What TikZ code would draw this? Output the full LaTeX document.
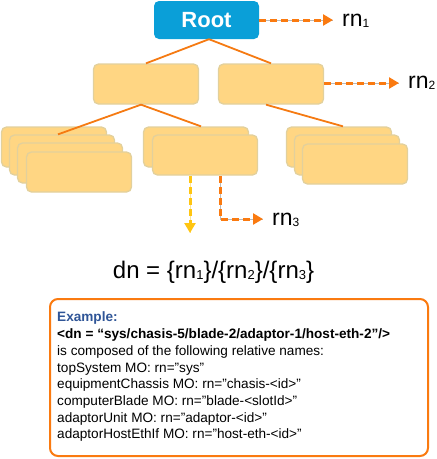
\documentclass[tikz,border=0pt]{standalone}
\usepackage{fontspec}
\setmainfont{Liberation Sans}
\usetikzlibrary{arrows.meta}
\definecolor{boxfill}{HTML}{FFD683}
\definecolor{boxline}{HTML}{E2D09C}
\definecolor{rootblue}{HTML}{0A9FD8}
\definecolor{edgeor}{HTML}{F57A12}
\definecolor{dashor}{HTML}{FA7A10}
\definecolor{dashye}{HTML}{FFC511}
\definecolor{exblue}{HTML}{2F5597}
\newcommand\subdig[2]{\raisebox{-1pt}{\fontsize{#1}{#1}\selectfont #2}}
\begin{document}
\begin{tikzpicture}[x=1pt,y=-1pt,
 lbox/.style={rectangle, rounded corners=5pt, fill=boxfill, draw=boxline, line width=1.3pt, minimum width=105pt, minimum height=40pt, inner sep=0pt},
 edge/.style={draw=edgeor, line width=1.8pt},
 guide/.style={draw=gray!55, line width=0.7pt},
 dasharr/.style={line width=3pt, dash pattern=on 7pt off 4pt},
 tip/.style={-{Triangle[length=10pt,width=11pt]}},
 rnlab/.style={anchor=base west, inner sep=0pt, font=\fontsize{23}{23}\selectfont},
 txt/.style={anchor=base west, inner sep=0pt, font=\fontsize{13.6}{16}\selectfont}]
\useasboundingbox (0,0) rectangle (437,459);

% root
\node[rectangle, rounded corners=5pt, fill=rootblue, minimum width=105pt, minimum height=38pt, inner sep=0pt,
      text=white, font=\bfseries\fontsize{22}{22}\selectfont] (root) at (206.5,20) {Root};

% level 2
\node[lbox] (l2a) at (146,84) {};
\node[lbox] (l2b) at (271,84) {};

% left stack
\node[lbox] (s1a) at (54,147) {};
\node[lbox] (s1b) at (62,155) {};
\node[lbox] (s1c) at (70,163) {};
\node[lbox] (s1d) at (79,172) {};
% middle stack
\node[lbox] (m1) at (196,147) {};
\node[lbox] (m2) at (205,155) {};
% right stack
\node[lbox] (r1) at (339,147) {};
\node[lbox] (r2) at (347,155) {};
\node[lbox] (r3) at (355,164) {};

% tree edges
\draw[edge] ([xshift=2.5pt]root.south) -- (l2a.north);
\draw[edge] ([xshift=2.5pt]root.south) -- (l2b.north);
\draw[edge] ([xshift=-5pt]l2a.south) -- ([xshift=-4pt]s1b.north);
\draw[edge] ([xshift=-5pt]l2a.south) -- ([xshift=5pt]m1.north);
\draw[edge] ([xshift=-5pt]l2b.south) -- ([xshift=4pt]r1.north);

% rn1
\coordinate (e1) at (333,20);
\draw[guide] (root.east) -- (e1);
\draw[dasharr, tip, draw=dashor] (root.east) -- (e1);
\node[rnlab] (rn1) at (342,26) {rn\subdig{12}{1}};

% rn2
\coordinate (e2s) at (324,83);
\coordinate (e2) at (399,83);
\draw[guide] (e2s) -- (e2);
\draw[dasharr, tip, draw=dashor] (e2s) -- (e2);
\node[rnlab] (rn2) at (408,88) {rn\subdig{12}{2}};

% yellow down arrow
\coordinate (ys) at (190,176);
\coordinate (ye) at (190,233);
\draw[draw=dashye!45, line width=0.7pt] (ys) -- (ye);
\draw[dasharr, tip, draw=dashye] (ys) -- (ye);

% rn3
\coordinate (os) at (220,176);
\coordinate (oc) at (220,219);
\coordinate (oe) at (263,219);
\draw[guide] (os) -- (oc) -- (oe);
\draw[dasharr, tip, draw=dashor] (os) -- (oc) -- (oe);
\node[rnlab] (rn3) at (272,225) {rn\subdig{12}{3}};

% dn formula
\node[anchor=base, inner sep=0pt, font=\fontsize{24}{24}\selectfont] (dn) at (213.5,278)
  {dn = \{rn\subdig{13}{1}\}/\{rn\subdig{13}{2}\}/\{rn\subdig{13}{3}\}};

% example frame
\node[draw=dashor, line width=2pt, rounded corners=8pt, minimum width=378pt, minimum height=157pt,
      inner sep=0pt, anchor=north west] (frame) at (49,298) {};
\node[txt, text=exblue, font=\bfseries\fontsize{13.6}{16}\selectfont] (t1) at (57,321) {Example:};
\node[txt, font=\bfseries\fontsize{13.6}{16}\selectfont] (t2) at (57,338) {<dn = “sys/chasis-5/blade-2/adaptor-1/host-eth-2”/>};
\node[txt] (t3) at (57,355) {is composed of the following relative names:};
\node[txt] (t4) at (57,372) {topSystem MO: rn=”sys”};
\node[txt] (t5) at (57,388) {equipmentChassis MO: rn=”chasis-<id>”};
\node[txt] (t6) at (57,405) {computerBlade MO: rn=”blade-<slotId>”};
\node[txt] (t7) at (57,422) {adaptorUnit MO: rn=”adaptor-<id>”};
\node[txt] (t8) at (57,438) {adaptorHostEthIf MO: rn=”host-eth-<id>”};
\end{tikzpicture}
\end{document}
